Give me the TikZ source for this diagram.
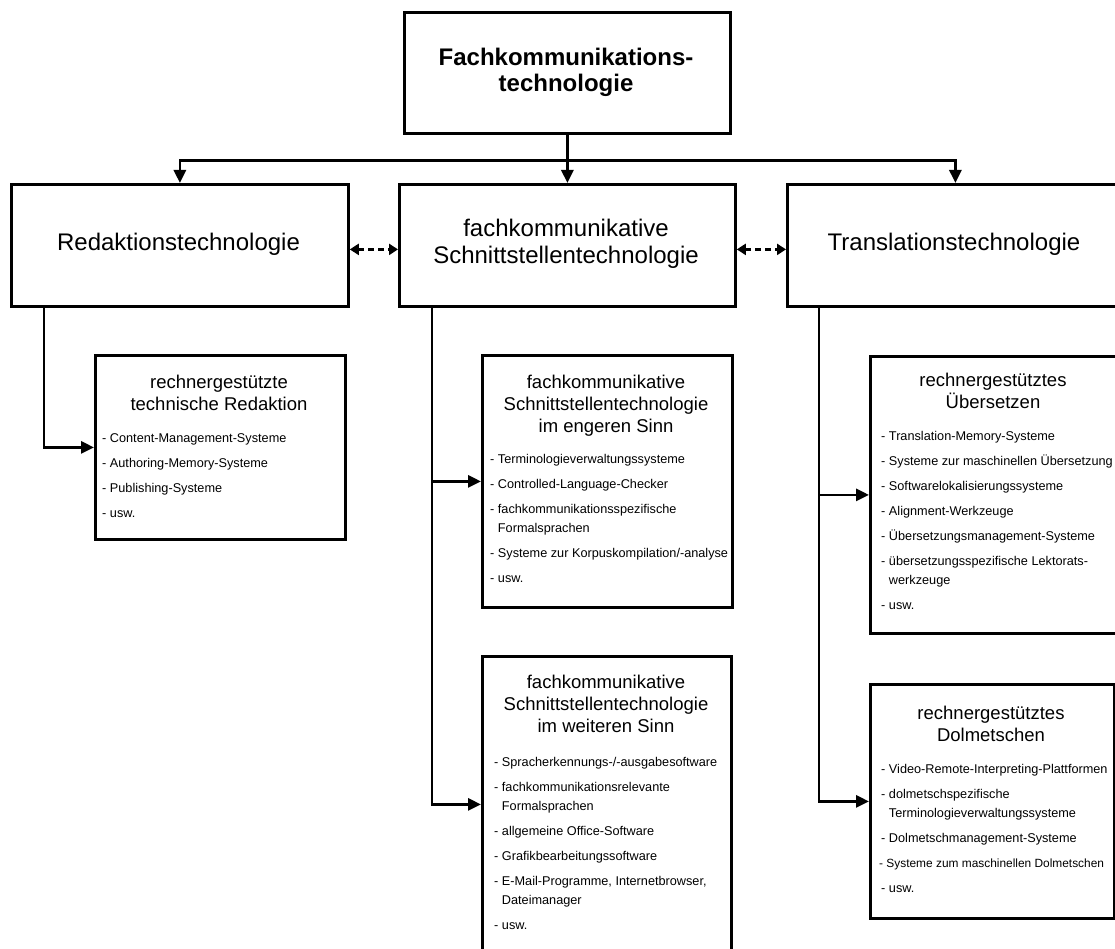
\documentclass[tikz,border=0pt]{standalone}
\usepackage{fontspec}
\setmainfont{Liberation Sans}
\usetikzlibrary{arrows.meta}
\newcommand{\ind}{\hphantom{- }}
\begin{document}
\begin{tikzpicture}[x=1pt,y=-1pt,
  box/.style={draw, line width=2.8pt, inner sep=0pt, anchor=north west},
  toptxt/.style={font=\bfseries\fontsize{24}{26}\selectfont, align=center, anchor=base, inner sep=0pt},
  headtxt/.style={font=\fontsize{24}{27}\selectfont, align=center, anchor=base, inner sep=0pt},
  subtitle/.style={font=\fontsize{18.5}{22}\selectfont, align=center, anchor=base, inner sep=0pt},
  itemlist/.style={font=\fontsize{12.7}{19}\selectfont, align=left, anchor=base west, inner sep=0pt},
  conn/.style={line width=2.8pt, -{Triangle[length=13pt,width=12pt]}},
  link/.style={line width=2.8pt, dash pattern=on 6pt off 4pt,
    {Triangle[length=9pt,width=11pt]}-{Triangle[length=9pt,width=11pt]}},
]
\useasboundingbox (0,0) rectangle (1115,949);
\clip (0,0) rectangle (1115,949);

% boxes
\node[box, minimum width=326pt, minimum height=121pt] (top) at (403,11) {};
\node[box, minimum width=337pt, minimum height=122pt] (red) at (10,183) {};
\node[box, minimum width=336pt, minimum height=122pt] (mid) at (398,183) {};
\node[box, minimum width=336pt, minimum height=122pt] (trans) at (786,183) {};
\node[box, minimum width=250pt, minimum height=184pt] (rtr) at (94,354) {};
\node[box, minimum width=250pt, minimum height=252pt] (eng) at (481,354) {};
\node[box, minimum width=249pt, minimum height=296pt] (wei) at (481,655) {};
\node[box, minimum width=249pt, minimum height=277pt] (ueb) at (869,355) {};
\node[box, minimum width=244pt, minimum height=234pt] (dol) at (869,683) {};

% texts of the main boxes (anchor = baseline of the last line)
\node[toptxt] (toptext) at (566,92) {Fachkommunikations-\\technologie};
\node[headtxt] (redtext) at (178.5,251) {Redaktionstechnologie};
\node[headtxt] (midtext) at (566,264) {fachkommunikative\\Schnittstellentechnologie};
\node[headtxt] (transtext) at (954,251) {Translationstechnologie};

% sub-box titles
\node[subtitle] (rtrtitle) at (219,410) {rechnergestützte\\technische Redaktion};
\node[subtitle] (engtitle) at (606,432) {fachkommunikative\\Schnittstellentechnologie\\im engeren Sinn};
\node[subtitle] (weititle) at (606,732) {fachkommunikative\\Schnittstellentechnologie\\im weiteren Sinn};
\node[subtitle] (uebtitle) at (993,408) {rechnergestütztes\\Übersetzen};
\node[subtitle] (doltitle) at (991,741) {rechnergestütztes\\Dolmetschen};

% lists
\node[itemlist] (rtrlist) at (102,517) {- Content-Management-Systeme\\[6pt]
- Authoring-Memory-Systeme\\[6pt]
- Publishing-Systeme\\[6pt]
- usw.};
\node[itemlist] (englist) at (490,582) {- Terminologieverwaltungssysteme\\[6pt]
- Controlled-Language-Checker\\[6pt]
- fachkommunikationsspezifische\\
\ind Formalsprachen\\[6pt]
- Systeme zur Korpuskompilation/-analyse\\[6pt]
- usw.};
\node[itemlist] (weilist) at (494,929) {- Spracherkennungs-/-ausgabesoftware\\[6pt]
- fachkommunikationsrelevante\\
\ind Formalsprachen\\[6pt]
- allgemeine Office-Software\\[6pt]
- Grafikbearbeitungssoftware\\[6pt]
- E-Mail-Programme, Internetbrowser,\\
\ind Dateimanager\\[6pt]
- usw.};
\node[itemlist] (ueblist) at (881,609) {- Translation-Memory-Systeme\\[6pt]
- Systeme zur maschinellen Übersetzung\\[6pt]
- Softwarelokalisierungssysteme\\[6pt]
- Alignment-Werkzeuge\\[6pt]
- Übersetzungsmanagement-Systeme\\[6pt]
- übersetzungsspezifische Lektorats-\\
\ind werkzeuge\\[6pt]
- usw.};
\node[itemlist] (dollist) at (881,892) {- Video-Remote-Interpreting-Plattformen\\[6pt]
- dolmetschspezifische\\
\ind Terminologieverwaltungssysteme\\[6pt]
- Dolmetschmanagement-Systeme\\[6pt]
\hspace*{-2pt}{\fontsize{11.9}{19}\selectfont - Systeme zum maschinellen Dolmetschen}\\[6pt]
- usw.};

% connectors from the top
\draw[conn] (top.south) -- (mid.north);
\path (top.south) ++(0,26) coordinate (j);
\draw[conn] (j) -| (red.north);
\draw[conn] (j) -| (trans.north);

% dashed links
\draw[link] ([yshift=-4pt]red.east) -- ([yshift=-4pt]mid.west);
\draw[link] ([yshift=-4pt]mid.east) -- ([yshift=-4pt]trans.west);

% trunks
\path ([xshift=34pt]red.south west) coordinate (rt);
\path ([xshift=34pt]mid.south west) coordinate (mt);
\path ([xshift=33pt]trans.south west) coordinate (tt);
\draw[conn] (rt) |- (rtr.west);
\draw[conn] (mt) |- (eng.west);
\draw[conn] (mt) |- (wei.west);
\draw[conn] (tt) |- (ueb.west);
\draw[conn] (tt) |- (dol.west);
\end{tikzpicture}
\end{document}
